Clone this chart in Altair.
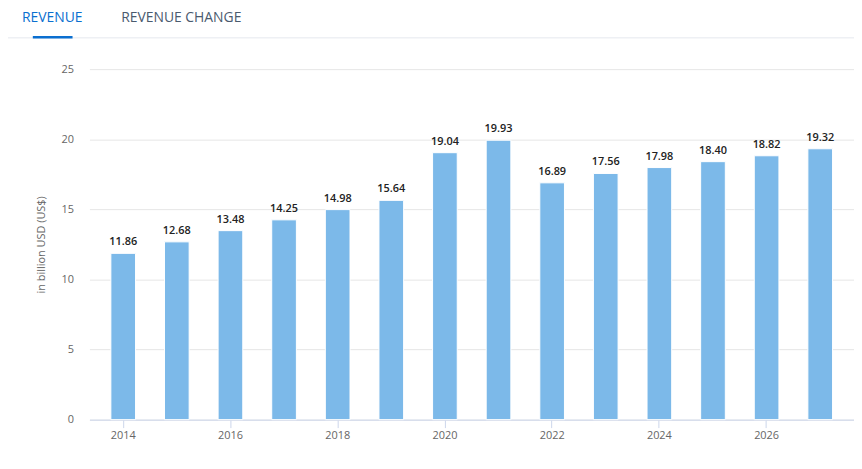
import altair as alt
import pandas as pd

years = list(range(2014, 2028))
revenue = [11.86, 12.68, 13.48, 14.25, 14.98, 15.64, 19.04, 19.93, 16.89, 17.56, 17.98, 18.40, 18.82, 19.32]
tick_years = [2014, 2016, 2018, 2020, 2022, 2024, 2026]
y_ticks = [0, 5, 10, 15, 20, 25]
tabs = ["REVENUE", "REVENUE CHANGE"]

df = pd.DataFrame({"year": years, "revenue": revenue})
FONT = "Open Sans"

x_enc = alt.X(
    "year:O",
    scale=alt.Scale(paddingInner=0.54, paddingOuter=0.4),
    axis=alt.Axis(
        values=tick_years, labelAngle=0, title=None, grid=False,
        domainColor="#ccd6eb", tickColor="#ccd6eb", tickSize=8,
        labelColor="#666666", labelFontSize=11, labelFont=FONT, labelPadding=2,
    ),
)
y_enc = alt.Y(
    "revenue:Q",
    scale=alt.Scale(domain=[0, 25], nice=False),
    axis=alt.Axis(
        values=y_ticks, domain=False, ticks=False, gridColor="#e6e6e6",
        labelColor="#666666", labelFontSize=11, labelFont=FONT, labelPadding=16,
        title="in billion USD (US$)", titleColor="#666666", titleFontSize=11,
        titleFont=FONT, titleFontWeight="normal", titlePadding=15,
    ),
)

bars = alt.Chart(df).mark_bar(color="#7cb9e9", stroke="white", strokeWidth=1).encode(x=x_enc, y=y_enc)
labels = alt.Chart(df).mark_text(
    baseline="alphabetic", dy=-8, font=FONT, fontSize=11, fontWeight=600, color="#222222"
).encode(x=x_enc, y=y_enc, text=alt.Text("revenue:Q", format=".2f"))

sep = alt.Chart(pd.DataFrame({"a": [0]})).mark_rule(color="#eef0f4", strokeWidth=1.5).encode(
    x=alt.value(-87), x2=alt.value(772), y=alt.value(-31.5)
)
underline = alt.Chart(pd.DataFrame({"a": [0]})).mark_rule(color="#0a6fd0", strokeWidth=2.5).encode(
    x=alt.value(-57), x2=alt.value(-17), y=alt.value(-32)
)
tab1 = alt.Chart(pd.DataFrame({"t": [tabs[0]]})).mark_text(
    font=FONT, fontSize=14, color="#0a6fd0", baseline="alphabetic", align="center"
).encode(x=alt.value(-37.5), y=alt.value(-47.5), text="t:N")
tab2 = alt.Chart(pd.DataFrame({"t": [tabs[1]]})).mark_text(
    font=FONT, fontSize=14, color="#4a5a6e", baseline="alphabetic", align="center"
).encode(x=alt.value(92.5), y=alt.value(-47.5), text="t:N")

chart = alt.layer(bars, labels, sep, underline, tab1, tab2).properties(
    width=770, height=353,
    autosize=alt.AutoSizeParams(type="none"),
    padding={"left": 82, "top": 60, "right": 0, "bottom": 28},
    background="white",
).configure_view(stroke=None)

chart.save("out.html", embed_options={"renderer": "svg", "actions": False})
